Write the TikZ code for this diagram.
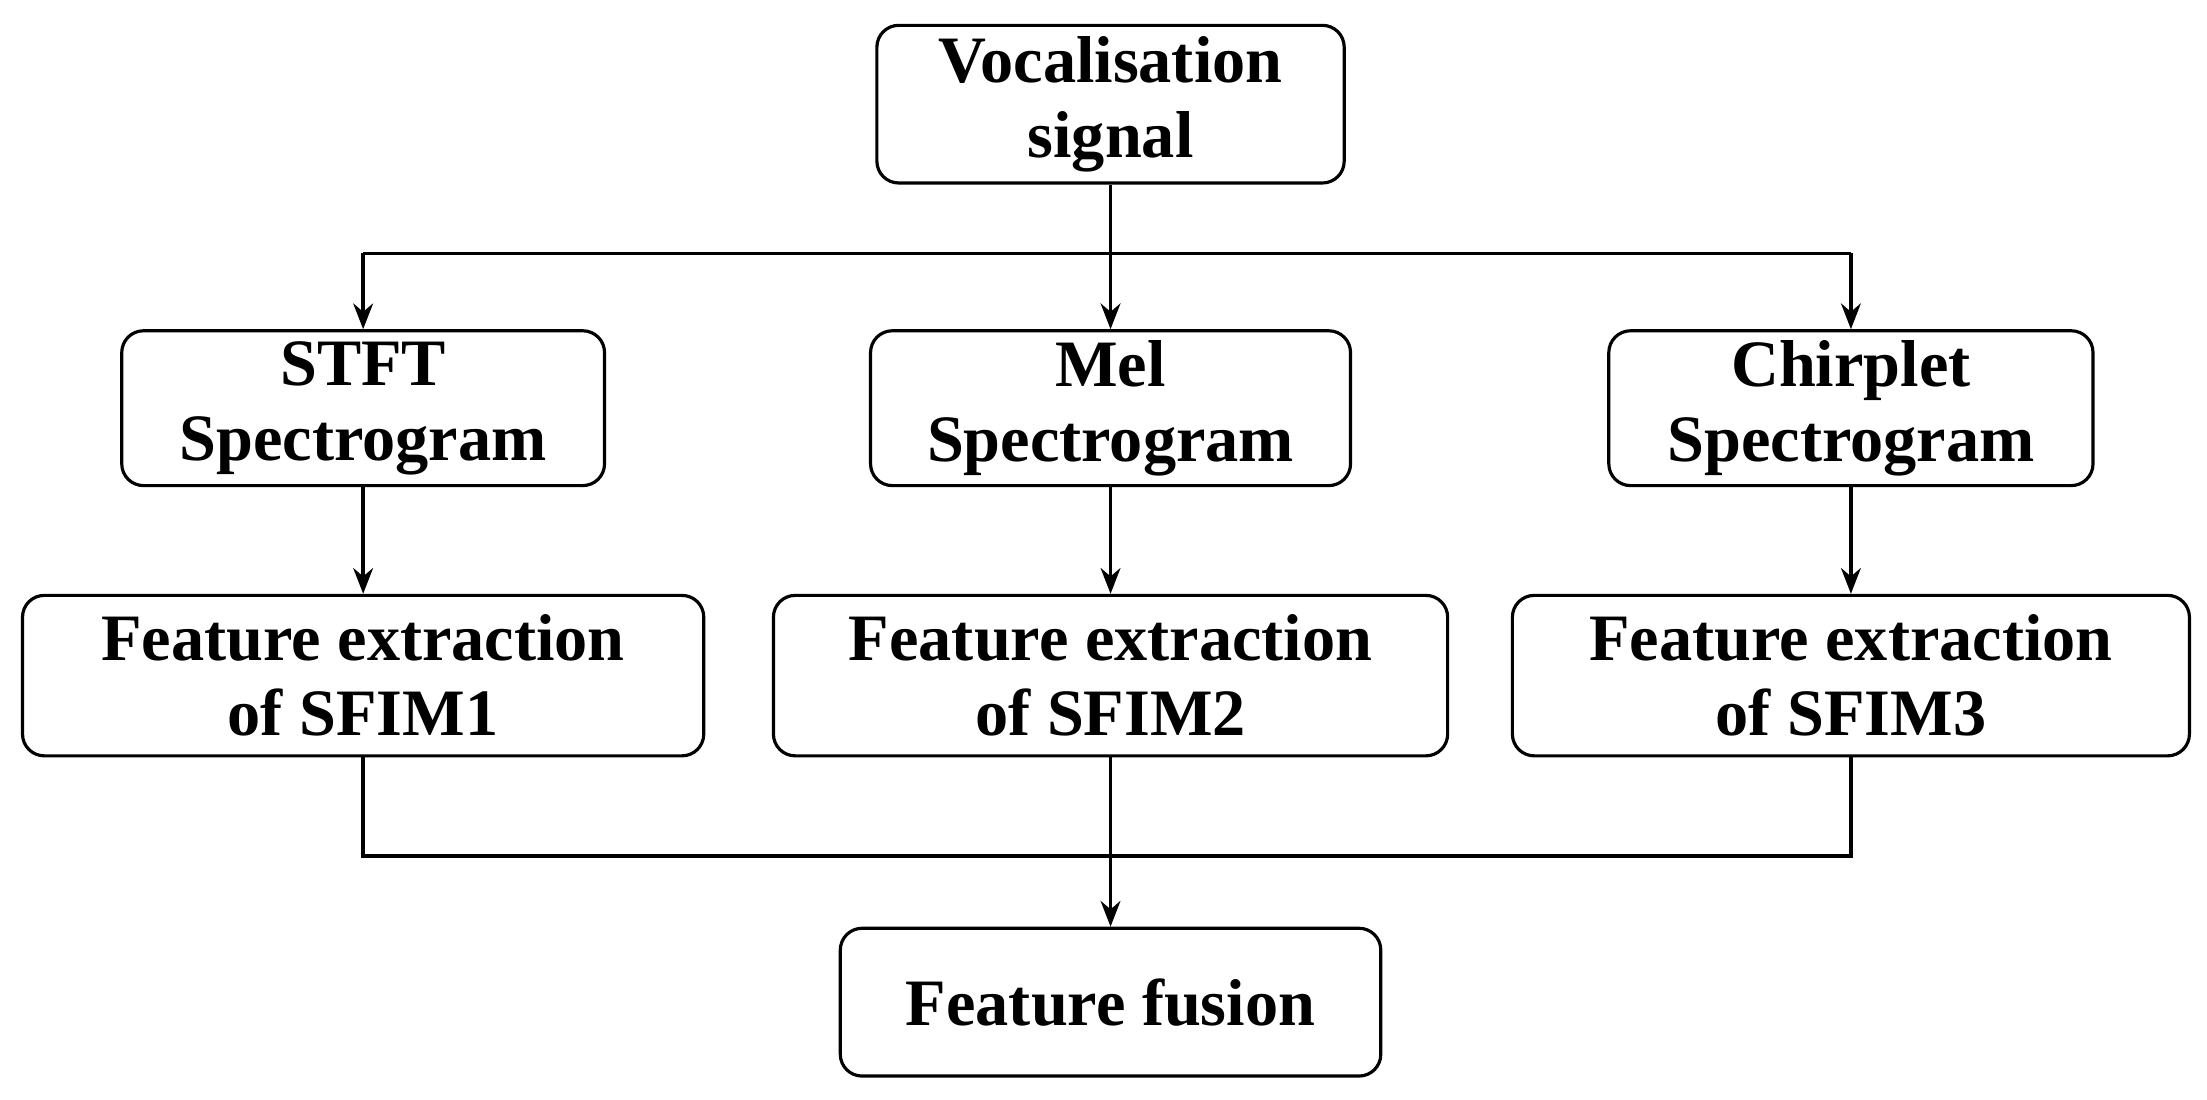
\documentclass[tikz,border=0pt]{standalone}
\usepackage{fontspec}
\setmainfont{Liberation Serif}
\usetikzlibrary{arrows.meta}
\begin{document}
\begin{tikzpicture}[x=0.05cm,y=-0.05cm,
  box/.style={draw,line width=3.2pt,rounded corners=22pt,inner sep=0pt,font=\fontsize{67}{76}\selectfont\bfseries,align=center},
  ln/.style={line width=3.6pt},
  ar/.style={ln,-{Stealth[length=26pt,width=20pt]}}]
\useasboundingbox (0,0) rectangle (1568,781);
\node[box,minimum width=332*0.05cm,minimum height=112*0.05cm] (v) at (789,74) {Vocalisation\\signal};
\node[box,minimum width=343*0.05cm,minimum height=110*0.05cm] (s1) at (258,290) {STFT\\Spectrogram};
\node[box,minimum width=341*0.05cm,minimum height=110*0.05cm] (s2) at (789,290) {Mel\\Spectrogram};
\node[box,minimum width=344*0.05cm,minimum height=110*0.05cm] (s3) at (1315,290) {Chirplet\\Spectrogram};
\node[box,minimum width=484*0.05cm,minimum height=114*0.05cm] (f1) at (258,480) {Feature extraction\\of SFIM1};
\node[box,minimum width=479*0.05cm,minimum height=114*0.05cm] (f2) at (789,480) {Feature extraction\\of SFIM2};
\node[box,minimum width=481*0.05cm,minimum height=114*0.05cm] (f3) at (1315,480) {Feature extraction\\of SFIM3};
\node[box,minimum width=384*0.05cm,minimum height=105*0.05cm] (ff) at (789,712) {Feature fusion};
\coordinate (t1) at (258,180);
\coordinate (t3) at (1315,180);
\coordinate (b1) at (258,608);
\coordinate (b3) at (1315,608);
\draw[ar] (v.south) -- (s2.north);
\draw[ar] (t1) -- (s1.north);
\draw[ar] (t3) -- (s3.north);
\draw[ln] (t1) -- (t3);
\draw[ar] (s1) -- (f1);
\draw[ar] (s2) -- (f2);
\draw[ar] (s3) -- (f3);
\draw[ln] (f1.south) -- (b1) -- (b3) -- (f3.south);
\draw[ar] (f2.south) -- (ff.north);
\end{tikzpicture}
\end{document}
